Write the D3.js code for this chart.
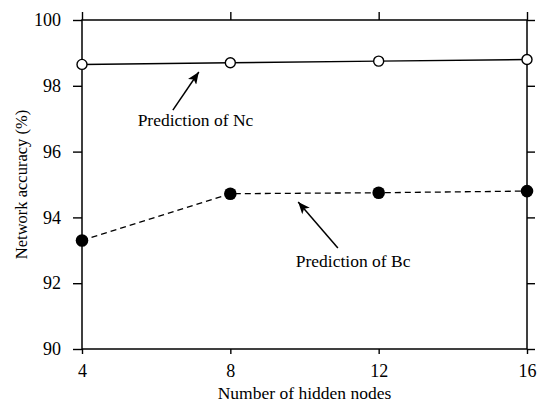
<!DOCTYPE html>
<html>
<head>
<meta charset="utf-8">
<script src="https://cdn.jsdelivr.net/npm/d3@7"></script>
<style>
  body { margin: 0; background: #fff; }
  text { font-family: "Liberation Serif", "Times New Roman", serif; fill: #000; }
</style>
</head>
<body>
<div id="chart"></div>
<script>
// DATA
var hiddenNodes = [4, 8, 12, 16];
var accNc = [98.65, 98.7, 98.75, 98.8];
var accBc = [93.3, 94.72, 94.75, 94.8];
var yTicks = [90, 92, 94, 96, 98, 100];

// annotation labels + arrows, in data units
var notes = [
  { label: 'Prediction of Nc', tx: 7.06, ty: 96.78, x1: 6.45, y1: 97.26, x2: 7.15, y2: 98.42 },
  { label: 'Prediction of Bc', tx: 11.31, ty: 92.49, x1: 10.9, y1: 93.07, x2: 9.83, y2: 94.47 }
];

var W = 538, H = 407;
var margin = { top: 20, right: 11, bottom: 58, left: 82 };
var width  = W - margin.left - margin.right;
var height = H - margin.top - margin.bottom;

var svg = d3.select('#chart').append('svg')
  .attr('width', W)
  .attr('height', H);

var g = svg.append('g')
  .attr('transform', 'translate(' + margin.left + ',' + margin.top + ')');

var xScale = d3.scaleLinear().domain([4, 16]).range([0, width]);
var yScale = d3.scaleLinear().domain([90, 100]).range([height, 0]);

// arrow head
svg.append('defs').append('marker')
  .attr('id', 'head')
  .attr('viewBox', '0 0 12 10')
  .attr('refX', 12).attr('refY', 5)
  .attr('markerWidth', 13).attr('markerHeight', 10)
  .attr('markerUnits', 'userSpaceOnUse')
  .attr('orient', 'auto')
  .append('path')
  .attr('d', 'M0,0 L12,5 L0,10 L3,5 Z')
  .attr('fill', '#000');

// axes, ticks pointing outward on every side
function styleAxis(sel) {
  sel.select('.domain').remove();
  sel.selectAll('.tick line').attr('stroke', '#000').attr('stroke-width', 1.4);
  sel.selectAll('.tick text')
    .style('font-family', '"Liberation Serif", serif')
    .style('font-size', '18px')
    .attr('fill', '#000');
}

g.append('g')
  .attr('transform', 'translate(0,' + height + ')')
  .call(d3.axisBottom(xScale).tickValues(hiddenNodes).tickSize(5).tickPadding(10).tickFormat(d3.format('d')))
  .call(styleAxis);

g.append('g')
  .call(d3.axisTop(xScale).tickValues(hiddenNodes).tickSize(8).tickFormat(''))
  .call(styleAxis);

g.append('g')
  .call(d3.axisLeft(yScale).tickValues(yTicks).tickSize(9).tickPadding(12).tickFormat(d3.format('d')))
  .call(styleAxis);

g.append('g')
  .attr('transform', 'translate(' + width + ',0)')
  .call(d3.axisRight(yScale).tickValues(yTicks).tickSize(8).tickFormat(''))
  .call(styleAxis);

// frame
g.append('rect')
  .attr('x', 0).attr('y', 0)
  .attr('width', width).attr('height', height)
  .attr('fill', 'none')
  .attr('stroke', '#000')
  .attr('stroke-width', 1.5);

var line = d3.line()
  .x(function(d) { return xScale(d[0]); })
  .y(function(d) { return yScale(d[1]); });

var ncPts = hiddenNodes.map(function(n, i) { return [n, accNc[i]]; });
var bcPts = hiddenNodes.map(function(n, i) { return [n, accBc[i]]; });

// Bc: dashed line with filled dots
g.append('path')
  .datum(bcPts)
  .attr('d', line)
  .attr('fill', 'none')
  .attr('stroke', '#000')
  .attr('stroke-width', 1.3)
  .attr('stroke-dasharray', '6,4');

g.selectAll('.bc')
  .data(bcPts)
  .enter().append('circle')
  .attr('class', 'bc')
  .attr('cx', function(d) { return xScale(d[0]); })
  .attr('cy', function(d) { return yScale(d[1]); })
  .attr('r', 6.3)
  .attr('fill', '#000');

// Nc: solid line with open circles
g.append('path')
  .datum(ncPts)
  .attr('d', line)
  .attr('fill', 'none')
  .attr('stroke', '#000')
  .attr('stroke-width', 1.5);

g.selectAll('.nc')
  .data(ncPts)
  .enter().append('circle')
  .attr('class', 'nc')
  .attr('cx', function(d) { return xScale(d[0]); })
  .attr('cy', function(d) { return yScale(d[1]); })
  .attr('r', 5)
  .attr('fill', '#fff')
  .attr('stroke', '#000')
  .attr('stroke-width', 1.4);

// annotations
notes.forEach(function(n) {
  g.append('line')
    .attr('x1', xScale(n.x1)).attr('y1', yScale(n.y1))
    .attr('x2', xScale(n.x2)).attr('y2', yScale(n.y2))
    .attr('stroke', '#000')
    .attr('stroke-width', 1.5)
    .attr('marker-end', 'url(#head)');
  g.append('text')
    .attr('x', xScale(n.tx))
    .attr('y', yScale(n.ty))
    .attr('text-anchor', 'middle')
    .style('font-size', '17.5px')
    .text(n.label);
});

// axis titles
svg.append('text')
  .attr('x', margin.left + width / 2)
  .attr('y', 399)
  .attr('text-anchor', 'middle')
  .style('font-size', '17.5px')
  .text('Number of hidden nodes');

svg.append('text')
  .attr('transform', 'translate(27,' + (margin.top + height / 2) + ') rotate(-90)')
  .attr('text-anchor', 'middle')
  .style('font-size', '16.5px')
  .text('Network accuracy (%)');
</script>
</body>
</html>
